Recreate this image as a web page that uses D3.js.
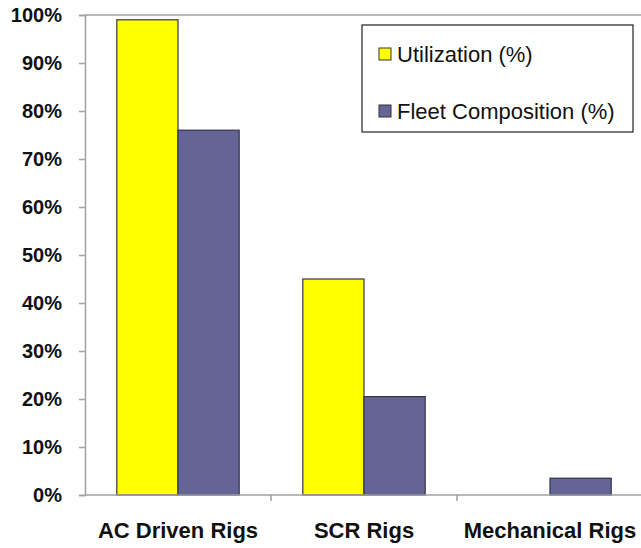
<!DOCTYPE html>
<html>
<head>
<meta charset="utf-8">
<script src="https://cdn.jsdelivr.net/npm/d3@7"></script>
<style>
    body { margin: 0; background: #fff; }
    text { font-family: "Liberation Sans", Arial, sans-serif; }
</style>
</head>
<body>
<div id="chart"></div>
<script>
// data
let categories = ["AC Driven Rigs", "SCR Rigs", "Mechanical Rigs"];
let utilization = [99, 45, 0];
let fleetComposition = [76, 20.5, 3.5];
let seriesNames = ["Utilization (%)", "Fleet Composition (%)"];
let seriesColors = ["#ffff00", "#646496"];
let yTicks = [0, 10, 20, 30, 40, 50, 60, 70, 80, 90, 100];

let margin = {top: 15, right: -2, bottom: 53, left: 85};
let width = 641 - margin.left - margin.right;
let height = 548 - margin.top - margin.bottom;

let svg = d3.select("#chart").append("svg")
    .attr("width", 641)
    .attr("height", 548)
    .append("g")
    .attr("transform", `translate(${margin.left}, ${margin.top})`);

let x0 = d3.scaleBand()
    .domain(categories)
    .range([0, width])
    .paddingInner(0)
    .paddingOuter(0);

let x1 = d3.scaleBand()
    .domain(seriesNames)
    .range([0, x0.bandwidth()])
    .paddingOuter(0.52)
    .paddingInner(0);

let y = d3.scaleLinear()
    .domain([0, 100])
    .range([height, 0]);

// top border line
svg.append("line")
    .attr("x1", 0).attr("x2", width)
    .attr("y1", 0).attr("y2", 0)
    .attr("stroke", "#a0a0a0")
    .attr("stroke-width", 1.5);

// bars
let data = categories.map((c, i) => ({cat: c, values: [utilization[i], fleetComposition[i]]}));

let groups = svg.selectAll(".group")
    .data(data)
    .enter().append("g")
    .attr("class", "group")
    .attr("transform", d => `translate(${x0(d.cat)}, 0)`);

groups.selectAll("rect")
    .data(d => d.values.map((v, j) => ({name: seriesNames[j], value: v, color: seriesColors[j]})))
    .enter().append("rect")
    .filter(d => d.value > 0)
    .attr("x", d => x1(d.name))
    .attr("y", d => y(d.value))
    .attr("width", x1.bandwidth())
    .attr("height", d => height - y(d.value))
    .attr("fill", d => d.color)
    .attr("stroke", "#33334a")
    .attr("stroke-width", 1.2);

// y axis
let yAxis = d3.axisLeft(y)
    .tickValues(yTicks)
    .tickSize(6)
    .tickPadding(17)
    .tickFormat(d => d + "%");

let yG = svg.append("g").attr("class", "y-axis").call(yAxis);
yG.select(".domain").attr("stroke", "#a0a0a0").attr("stroke-width", 1.5);
yG.selectAll(".tick line").attr("stroke", "#a0a0a0").attr("stroke-width", 1.5);
yG.selectAll(".tick text")
    .attr("font-size", 20)
    .attr("font-weight", "bold")
    .attr("fill", "#111")
    .attr("font-family", "Liberation Sans, Arial, sans-serif");

// x axis
let xG = svg.append("g")
    .attr("transform", `translate(0, ${height})`);

xG.append("line")
    .attr("x1", 0).attr("x2", width)
    .attr("stroke", "#a0a0a0")
    .attr("stroke-width", 1.5);

xG.selectAll(".xtick")
    .data(categories.slice(1))
    .enter().append("line")
    .attr("x1", d => x0(d)).attr("x2", d => x0(d))
    .attr("y1", 0).attr("y2", 6)
    .attr("stroke", "#a0a0a0")
    .attr("stroke-width", 1.5);

xG.selectAll(".xlabel")
    .data(categories)
    .enter().append("text")
    .attr("x", d => x0(d) + x0.bandwidth() / 2)
    .attr("y", 43)
    .attr("text-anchor", "middle")
    .attr("font-size", 22)
    .attr("font-weight", "bold")
    .attr("fill", "#111")
    .text(d => d);

// legend
let legend = svg.append("g")
    .attr("transform", "translate(277, 10)");

legend.append("rect")
    .attr("width", 271)
    .attr("height", 107)
    .attr("fill", "#fff")
    .attr("stroke", "#333")
    .attr("stroke-width", 1.3);

let items = legend.selectAll(".item")
    .data(seriesNames)
    .enter().append("g")
    .attr("transform", (d, i) => `translate(17, ${23 + i * 57})`);

items.append("rect")
    .attr("width", 12)
    .attr("height", 12)
    .attr("fill", (d, i) => seriesColors[i])
    .attr("stroke", "#333")
    .attr("stroke-width", 1);

items.append("text")
    .attr("x", 18)
    .attr("y", 14)
    .attr("font-size", 22)
    .attr("fill", "#111")
    .text(d => d);
</script>
</body>
</html>
